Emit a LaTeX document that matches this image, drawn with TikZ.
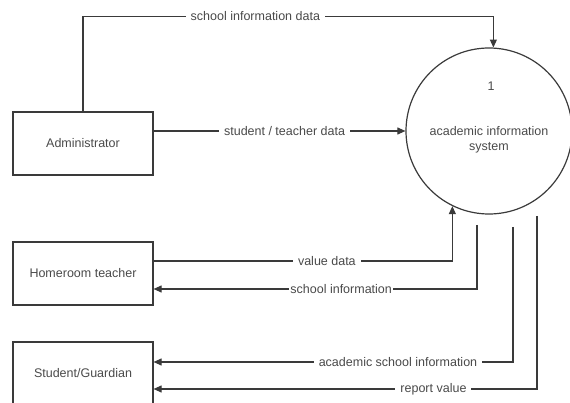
\documentclass[tikz,border=0pt]{standalone}
\usepackage{fontspec}
\setmainfont{Liberation Sans}
\usetikzlibrary{arrows.meta}
\definecolor{ink}{HTML}{3A3A3A}
\definecolor{txt}{HTML}{4A4A4A}
\begin{document}
\begin{tikzpicture}[x=1pt,y=-1pt,
  every node/.style={font=\fontsize{12.5}{15}\selectfont, text=txt},
  entity/.style={draw=ink, line width=1.2pt, minimum width=140pt, minimum height=63pt, inner sep=0pt},
  process/.style={draw=ink, line width=1.2pt, circle, minimum size=166pt, inner sep=0pt},
  flow/.style={draw=ink, line width=1.1pt, -{Triangle[length=8pt,width=7pt]}},
  lbl/.style={fill=white, inner xsep=5pt, inner ysep=1pt}]
\useasboundingbox (0,0) rectangle (570,403);

% external entities
\node[entity] (admin) at (83,143.5) {Administrator};
\node[entity] (home) at (83,273.5) {Homeroom teacher};
\node[entity] (stud) at (83,373.5) {Student/Guardian};

% process
\node[process] (sys) at (489,131) {};
\node (num) at (491,86) {1};
\node[align=center] (name) at (489,139.5) {academic information\\system};

% free ends of the outgoing flows
\coordinate (o1) at (477,225);
\coordinate (o2) at (513,227);
\coordinate (o3) at (537,216);

% flows into the process
\draw[flow] (admin.north) -- ++(0,-95) -| node[lbl,pos=0.21]{school information data} (sys.87);
\draw[flow] (admin.east |- sys.west) -- node[lbl,pos=0.52]{student / teacher data} (sys.west);
\draw[flow] ([yshift=12.5pt]home.east) -| node[lbl,pos=0.29]{value data} (sys.244);

% flows out of the process
\draw[flow] (o1) |- node[lbl,pos=0.71,inner xsep=1pt]{school information} ([yshift=-15.5pt]home.east);
\draw[flow] (o2) |- node[lbl,pos=0.66]{academic school information} ([yshift=11.5pt]stud.east);
\draw[flow] (o3) |- node[lbl,pos=0.635]{report value} ([yshift=-15.5pt]stud.east);
\end{tikzpicture}
\end{document}
